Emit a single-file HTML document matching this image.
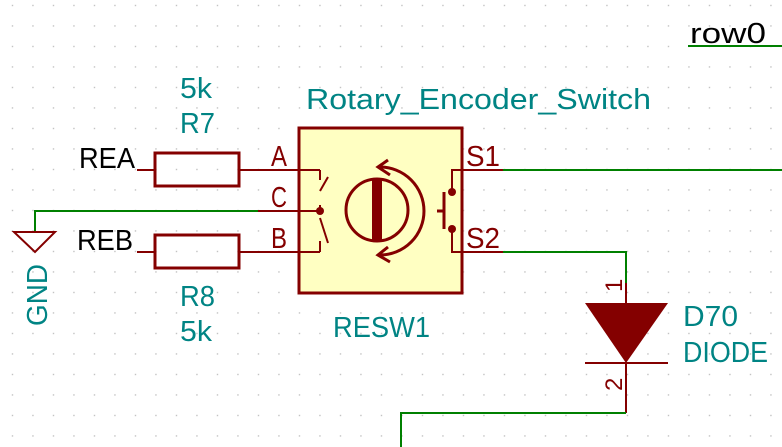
<!DOCTYPE html>
<html><head><style>html,body{margin:0;padding:0;background:#fff}svg{display:block}</style></head>
<body>
<svg width="782" height="447" viewBox="0 0 782 447" xmlns="http://www.w3.org/2000/svg" font-family="Liberation Sans, DejaVu Sans, sans-serif">
<defs>
<pattern id="g" x="11.8" y="4.8" width="20.5" height="20.5" patternUnits="userSpaceOnUse">
<rect x="0" y="0" width="1.3" height="1.3" fill="#b8b8b8"/>
</pattern>
</defs>
<rect width="782" height="447" fill="url(#g)"/>

<!-- box -->
<rect x="299" y="128" width="163" height="165" fill="#ffffc2" stroke="#840000" stroke-width="3"/>

<g stroke="#840000" stroke-width="2" fill="none">
<!-- A -->
<line x1="137" y1="170" x2="155" y2="170"/>
<line x1="239" y1="170" x2="320" y2="170"/>
<polyline points="320,170 320,180"/>
<line x1="320" y1="191" x2="328" y2="177"/>
<!-- C -->
<line x1="258" y1="211" x2="320" y2="211"/>
<line x1="320" y1="211" x2="320" y2="205"/>
<line x1="320" y1="218" x2="328" y2="243"/>
<!-- B -->
<line x1="137" y1="252" x2="155" y2="252"/>
<line x1="239" y1="252" x2="320" y2="252"/>
<line x1="320" y1="252" x2="320" y2="241"/>
<!-- S1/S2 -->
<polyline points="503,170 452,170 452,192"/>
<polyline points="503,252 452,252 452,229"/>
<line x1="444" y1="192" x2="444" y2="229" stroke-width="3"/>
<line x1="437" y1="211" x2="444" y2="211" stroke-width="3"/>
<!-- knob -->
<circle cx="377" cy="210" r="31" stroke-width="3"/>
<path d="M380,167 A44,44 0 0 1 380,255" stroke-width="3"/>
<polyline points="388,160 378,167 390,175" stroke-width="3"/>
<polyline points="388,247 378,255 390,262" stroke-width="3"/>
<!-- resistors -->
<rect x="155" y="153" width="84" height="33" stroke-width="3"/>
<rect x="155" y="235" width="84" height="33" stroke-width="3"/>
<!-- diode leads -->
<line x1="626" y1="283" x2="626" y2="303"/>
<line x1="626" y1="363" x2="626" y2="413"/>
<line x1="585" y1="363" x2="668" y2="363"/>
</g>
<rect x="372" y="179" width="10" height="62" fill="#840000"/>
<circle cx="320" cy="211" r="4" fill="#840000"/>
<circle cx="452" cy="192" r="4" fill="#840000"/>
<circle cx="452" cy="229" r="4" fill="#840000"/>
<polygon points="585,303 668,303 626,363" fill="#840000"/>

<!-- green wires -->
<g stroke="#008000" stroke-width="2" fill="none">
<polyline points="258,211 35,211 35,232"/>
<line x1="503" y1="170" x2="782" y2="170"/>
<polyline points="503,252 626,252 626,283"/>
<polyline points="626,413 401,413 401,447"/>
<line x1="688" y1="46" x2="782" y2="46"/>
</g>
<!-- GND -->
<polygon points="14,232 55,232 35,252" fill="none" stroke="#840000" stroke-width="2"/>

<g font-size="29" fill="#008484">
<text x="180" y="98" textLength="32" lengthAdjust="spacingAndGlyphs">5k</text>
<text x="180" y="133" textLength="35" lengthAdjust="spacingAndGlyphs">R7</text>
<text x="180" y="306" textLength="35" lengthAdjust="spacingAndGlyphs">R8</text>
<text x="180" y="341" textLength="32" lengthAdjust="spacingAndGlyphs">5k</text>
<text x="306" y="109" textLength="345" lengthAdjust="spacingAndGlyphs">Rotary_Encoder_Switch</text>
<text x="333" y="337" textLength="97" lengthAdjust="spacingAndGlyphs">RESW1</text>
<text x="683" y="326" textLength="55" lengthAdjust="spacingAndGlyphs">D70</text>
<text x="683" y="362" textLength="85" lengthAdjust="spacingAndGlyphs">DIODE</text>
<text transform="translate(47,326) rotate(-90)" textLength="62" lengthAdjust="spacingAndGlyphs">GND</text>
</g>
<g font-size="29" fill="#000">
<text x="79" y="168" textLength="56" lengthAdjust="spacingAndGlyphs">REA</text>
<text x="77" y="250" textLength="56" lengthAdjust="spacingAndGlyphs">REB</text>
<text x="690" y="43" textLength="76" lengthAdjust="spacingAndGlyphs">row0</text>
</g>
<g font-size="29" fill="#840000">
<text x="271" y="166" textLength="16" lengthAdjust="spacingAndGlyphs">A</text>
<text x="271" y="207" textLength="16" lengthAdjust="spacingAndGlyphs">C</text>
<text x="271" y="248" textLength="16" lengthAdjust="spacingAndGlyphs">B</text>
<text x="466" y="166" textLength="34" lengthAdjust="spacingAndGlyphs">S1</text>
<text x="466" y="248" textLength="34" lengthAdjust="spacingAndGlyphs">S2</text>
<text font-size="24" transform="translate(622,292) rotate(-90)">1</text>
<text font-size="24" transform="translate(622,391) rotate(-90)">2</text>
</g>
</svg>
</body></html>
